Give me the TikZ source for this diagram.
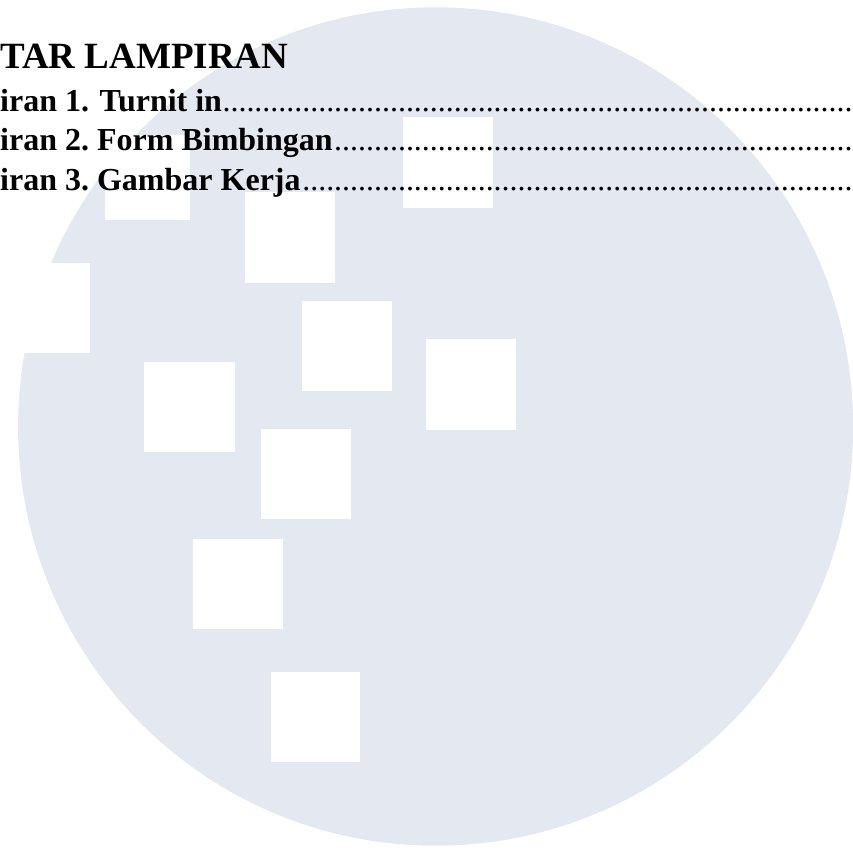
\documentclass[tikz,border=0pt]{standalone}
\usepackage{fontspec}
\setmainfont{Liberation Serif}
\definecolor{disc}{HTML}{E4E8F0}
\tikzset{
  hole/.style={fill=white,draw=none},
  head/.style={anchor=base west,inner sep=0pt,font=\bfseries\fontsize{37}{40}\selectfont,text=black},
  entry/.style={anchor=base west,inner sep=0pt,font=\frenchspacing\bfseries\fontsize{32}{38}\selectfont,text=black},
  leader/.style={anchor=base east,inner sep=0pt,font=\fontsize{31.9}{38}\selectfont,text=black}
}
\newcommand{\dotrun}[1]{\foreach \k in {1,...,#1}{.}}
\begin{document}
\begin{tikzpicture}[x=1pt,y=-1pt]
\useasboundingbox (0,0) rectangle (853,848);
\fill[disc] (435.6,426.5) ellipse[x radius=417.5,y radius=419.2];
\fill[hole] (0,262.5) rectangle (89.5,353);
\fill[hole] (105,135) rectangle (189.5,220);
\fill[hole] (245,192) rectangle (335.3,282.5);
\fill[hole] (402.7,117.5) rectangle (492.7,207.7);
\fill[hole] (301.5,301) rectangle (391.5,391);
\fill[hole] (425.5,339) rectangle (516,429.5);
\fill[hole] (144.3,362.3) rectangle (234.7,451.7);
\fill[hole] (261,429) rectangle (351,519);
\fill[hole] (193,539) rectangle (282.7,628.7);
\fill[hole] (270.7,672.3) rectangle (360.3,762.3);
\node[head] (title) at (0,69) {TAR LAMPIRAN};
\node[entry] (e1) at (0,111) {iran 1.\kern2.5pt{} Turnit in};
\node[entry] (e2) at (0,150) {iran 2. Form Bimbingan};
\node[entry] (e3) at (0,190) {iran 3. Gambar Kerja};
\node[leader] (d1) at (852.8,111) {\dotrun{79}};
\node[leader] (d2) at (852.8,150) {\dotrun{65}};
\node[leader] (d3) at (852.8,190) {\dotrun{69}};
\end{tikzpicture}
\end{document}
